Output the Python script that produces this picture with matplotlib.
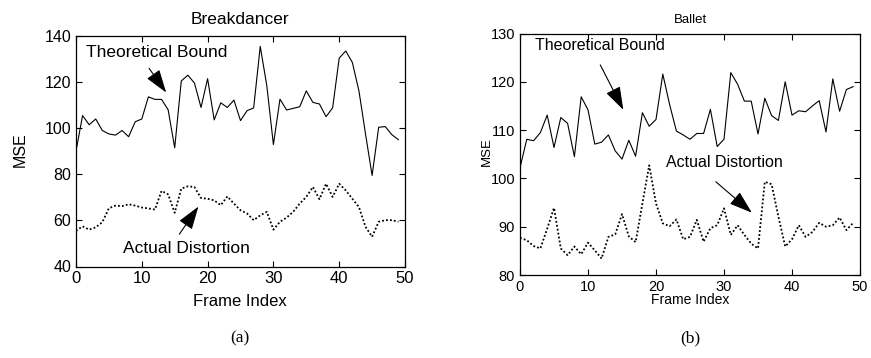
import matplotlib
matplotlib.use("Agg")
import matplotlib.pyplot as plt
import numpy as np

# Breakdancer (a)
bd_frames = np.arange(50)
bd_bound = [90, 105.5, 101.5, 104, 99, 97.5, 97, 99, 96.3, 102.8,
            104, 113.6, 112.5, 112.5, 108, 91.5, 120.5, 123, 119.6, 109,
            121.5, 103.6, 111, 109, 112.2, 103.3, 107.6, 108.8, 135.5, 118.4,
            92.9, 112.6, 107.9, 108.6, 109.3, 116.2, 111.2, 110.5, 105, 108.8,
            130.4, 133.5, 128.5, 116.2, 97.5, 79.5, 100.4, 100.7, 97.2, 95]
bd_actual = [55.5, 57.4, 56, 57, 59.2, 65.3, 66.4, 66.2, 67, 66.4,
             65.6, 65.2, 64.7, 72.8, 71.3, 63.3, 73.8, 74.8, 74.5, 69.7,
             69.4, 68.7, 66.6, 70.4, 67.3, 64.4, 63, 60.1, 62.2, 63.7,
             56, 59.4, 61.2, 63.7, 67.3, 70.2, 74.5, 69.2, 75.9, 70.2,
             75.9, 73, 69.4, 65.8, 57.2, 52.9, 59.4, 60.1, 60.1, 59.4]

# Ballet (b)
ballet_frames = np.arange(50)
ballet_bound = [102.2, 108.1, 107.8, 109.5, 113.1, 106.4, 112.6, 111.4, 104.5, 116.9,
                114.2, 107.1, 107.5, 109, 105.7, 104, 107.9, 104.6, 113.6, 110.8,
                112.2, 121.6, 115.3, 109.8, 109, 108.1, 109.3, 109.3, 114.3, 106.6,
                108.1, 121.9, 119.5, 116, 116, 109.2, 116.6, 113, 112, 120,
                113.1, 114, 113.8, 115, 116.1, 109.6, 120.6, 113.9, 118.4, 119]
ballet_actual = [87.7, 87.2, 86, 85.5, 89.6, 93.9, 85.5, 84.1, 85.9, 84.3,
                 86.7, 85.1, 83.4, 87.9, 88.4, 92.6, 88, 86.8, 94.8, 102.7,
                 94.8, 90.7, 90.1, 91.5, 87.4, 87.9, 91.4, 86.9, 89.7, 90.3,
                 93.8, 88.3, 90.3, 88.3, 86.5, 85.5, 99.3, 98.8, 92.1, 85.9,
                 87.4, 90.3, 87.9, 88.9, 90.8, 90, 90.3, 91.9, 89.3, 90.8]

SANS = ['Liberation Sans', 'DejaVu Sans']
SERIF = ['Liberation Serif', 'DejaVu Serif']

plt.rcParams['font.family'] = SANS
W, H = 871, 358

fig = plt.figure(figsize=(W / 100, H / 100), dpi=100)


def px_axes(x0, y0, x1, y1):
    return fig.add_axes([x0 / W, 1 - y1 / H, (x1 - x0) / W, (y1 - y0) / H])


def style_axes(ax, xsize, ysize):
    ax.tick_params(direction='in', top=True, right=True, length=4, width=0.8)
    ax.tick_params(axis='x', labelsize=xsize)
    ax.tick_params(axis='y', labelsize=ysize)
    for sp in ax.spines.values():
        sp.set_linewidth(0.9)


arrow = dict(arrowstyle='-|>,head_length=0.9,head_width=0.3', color='k',
             lw=0.8, shrinkA=0, shrinkB=0, mutation_scale=16)

# (a) Breakdancer
ax1 = px_axes(76, 36, 405, 266.5)
ax1.plot(bd_frames, bd_bound, color='k', lw=0.8)
ax1.plot(bd_frames, bd_actual, color='k', lw=1.3, linestyle=(0, (1, 1.2)))
ax1.set_xlim(0, 50)
ax1.set_ylim(40, 140)
ax1.set_xticks([0, 10, 20, 30, 40, 50])
ax1.set_yticks([40, 60, 80, 100, 120, 140])
style_axes(ax1, 12, 11.5)
ax1.text(1.5, 133, 'Theoretical Bound', fontsize=12.5, va='center', ha='left')
ax1.annotate('', xy=(13.7, 115.5), xytext=(11.1, 126), arrowprops=arrow)
ax1.text(7.1, 48, 'Actual Distortion', fontsize=12.5, va='center', ha='left')
ax1.annotate('', xy=(18.6, 66), xytext=(15.7, 54), arrowprops=arrow)

# (b) Ballet
ax2 = px_axes(520, 33.5, 860, 275)
ax2.plot(ballet_frames, ballet_bound, color='k', lw=0.8)
ax2.plot(ballet_frames, ballet_actual, color='k', lw=1.3, linestyle=(0, (1, 1.2)))
ax2.set_xlim(0, 50)
ax2.set_ylim(80, 130)
ax2.set_xticks([0, 10, 20, 30, 40, 50])
ax2.set_yticks([80, 90, 100, 110, 120, 130])
style_axes(ax2, 10.5, 10.5)
ax2.text(2.2, 127.6, 'Theoretical Bound', fontsize=11.5, va='center', ha='left')
ax2.annotate('', xy=(15.2, 114.2), xytext=(11.8, 123.5), arrowprops=arrow)
ax2.text(21.5, 103.3, 'Actual Distortion', fontsize=11.5, va='center', ha='left')
ax2.annotate('', xy=(34.1, 92.9), xytext=(28.8, 99.3), arrowprops=arrow)

# titles, axis labels and captions placed in figure pixels
fig.text(240 / W, 1 - 20 / H, 'Breakdancer', fontsize=12.5, ha='center', va='center')
fig.text(690 / W, 1 - 20 / H, 'Ballet', fontsize=9.5, ha='center', va='center')
fig.text(20 / W, 1 - 150 / H, 'MSE', fontsize=11.5, rotation=90, ha='center', va='center')
fig.text(487 / W, 1 - 152 / H, 'MSE', fontsize=9.5, rotation=90, ha='center', va='center')
fig.text(240 / W, 1 - 302 / H, 'Frame Index', fontsize=12, ha='center', va='center')
fig.text(690 / W, 1 - 300 / H, 'Frame Index', fontsize=10, ha='center', va='center')
fig.text(240 / W, 1 - 338 / H, '(a)', fontsize=12.5, ha='center', va='center', family=SERIF)
fig.text(690 / W, 1 - 338 / H, '(b)', fontsize=12.5, ha='center', va='center', family=SERIF)

fig.savefig('out.png', dpi=100)
